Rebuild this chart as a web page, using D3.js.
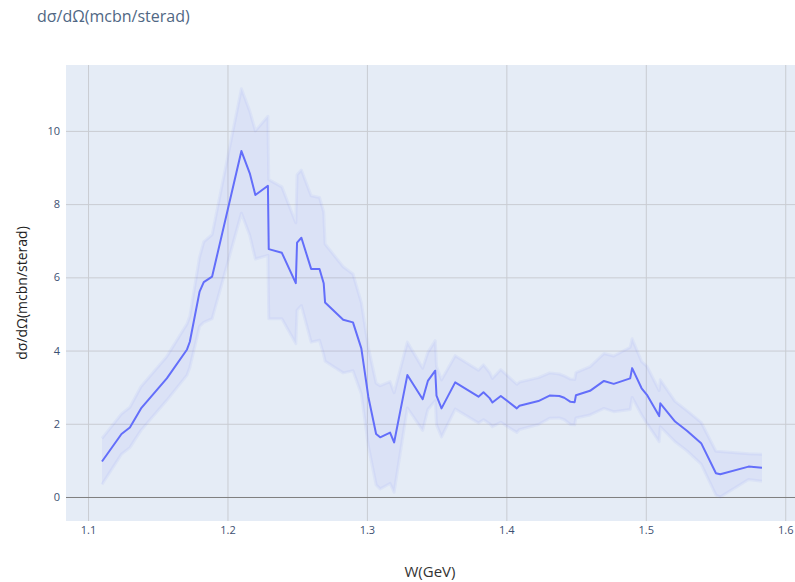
<!DOCTYPE html>
<html>
<head>
<meta charset="utf-8">
<script src="https://cdn.jsdelivr.net/npm/d3@7/dist/d3.min.js"></script>
<style>
  html, body { margin: 0; padding: 0; background: #ffffff; }
  svg { display: block; font-family: "Open Sans", "DejaVu Sans", Arial, sans-serif; }
</style>
</head>
<body>
<svg id="chart" width="795" height="582"></svg>
<script>
// Centre-of-mass energy W (GeV)
const energies = [1.110, 1.124, 1.130, 1.138, 1.1565, 1.171, 1.173, 1.180, 1.183, 1.189,
  1.210, 1.216, 1.220, 1.229, 1.2296, 1.239, 1.249, 1.2499, 1.253, 1.260,
  1.266, 1.269, 1.270, 1.283, 1.290, 1.296, 1.301, 1.3066, 1.3095, 1.3166,
  1.3195, 1.329, 1.340, 1.3437, 1.349, 1.3499, 1.3535, 1.3633, 1.380, 1.3836,
  1.388, 1.390, 1.396, 1.4075, 1.4094, 1.423, 1.431, 1.438, 1.4415, 1.446,
  1.449, 1.4499, 1.460, 1.470, 1.477, 1.4888, 1.4902, 1.497, 1.5008, 1.5096,
  1.5104, 1.521, 1.5295, 1.5397, 1.5503, 1.5534, 1.5737, 1.5833];

// Differential cross section dσ/dΩ (mcbn/sterad)
const crossSection = [0.97, 1.72, 1.90, 2.42, 3.24, 4.03, 4.24, 5.61, 5.87, 6.02,
  9.45, 8.84, 8.25, 8.50, 6.77, 6.67, 5.84, 6.95, 7.08, 6.23,
  6.23, 5.84, 5.31, 4.84, 4.77, 4.06, 2.74, 1.72, 1.63, 1.76,
  1.49, 3.33, 2.67, 3.17, 3.45, 2.77, 2.42, 3.13, 2.74, 2.86,
  2.70, 2.58, 2.76, 2.42, 2.49, 2.62, 2.77, 2.76, 2.71, 2.60,
  2.59, 2.78, 2.90, 3.17, 3.09, 3.24, 3.52, 2.97, 2.79, 2.21,
  2.56, 2.06, 1.81, 1.47, 0.65, 0.62, 0.83, 0.80];

// Uncertainty on each measurement
const uncertainty = [0.63, 0.55, 0.55, 0.60, 0.60, 0.70, 0.70, 0.95, 1.10, 1.15,
  1.70, 1.70, 1.75, 1.90, 1.90, 1.80, 1.65, 1.85, 1.85, 2.00,
  1.95, 1.95, 1.60, 1.45, 1.32, 1.25, 1.35, 1.39, 1.41, 1.39,
  1.36, 0.90, 0.85, 0.78, 0.82, 0.80, 0.78, 0.73, 0.72, 0.75,
  0.70, 0.66, 0.72, 0.66, 0.65, 0.64, 0.62, 0.60, 0.60, 0.62,
  0.62, 0.62, 0.66, 0.75, 0.76, 0.85, 0.80, 0.73, 0.78, 0.70,
  0.64, 0.55, 0.55, 0.57, 0.60, 0.62, 0.35, 0.37];

const xTicks = [1.1, 1.2, 1.3, 1.4, 1.5, 1.6];
const yTicks = [0, 2, 4, 6, 8, 10];

const titleText = "dσ/dΩ(mcbn/sterad)";
const xTitle = "W(GeV)";
const yTitle = "dσ/dΩ(mcbn/sterad)";

const points = energies.map((w, i) => ({
  w, v: crossSection[i], lo: crossSection[i] - uncertainty[i], hi: crossSection[i] + uncertainty[i]
}));

const svg = d3.select("#chart");
const plot = { left: 66, right: 795, top: 65, bottom: 521 };

const x = d3.scaleLinear().domain([1.0842, 1.607]).range([plot.left, plot.right]);
const y = d3.scaleLinear().domain([-0.656, 11.8]).range([plot.bottom, plot.top]);

// plot background
svg.append("rect")
  .attr("x", plot.left).attr("y", plot.top)
  .attr("width", plot.right - plot.left).attr("height", plot.bottom - plot.top)
  .attr("fill", "#e5ecf6");

// grid
const gridX = svg.append("g")
  .attr("transform", `translate(0,${plot.bottom})`)
  .call(d3.axisBottom(x).tickValues(xTicks).tickSize(-(plot.bottom - plot.top)).tickFormat(d3.format(".1f")));
gridX.select(".domain").remove();
gridX.selectAll(".tick line").attr("stroke", "#c9ccd2").attr("stroke-width", 1);
gridX.selectAll(".tick text")
  .attr("fill", "#3d5072").attr("font-size", 11).attr("dy", "0.35em").attr("y", 9)
  .style("font-family", "'Open Sans', sans-serif");

const gridY = svg.append("g")
  .attr("transform", `translate(${plot.left},0)`)
  .call(d3.axisLeft(y).tickValues(yTicks).tickSize(-(plot.right - plot.left)).tickFormat(d3.format("d")));
gridY.select(".domain").remove();
gridY.selectAll(".tick line")
  .attr("stroke", d => d === 0 ? "#7f7f7f" : "#c9ccd2")
  .attr("stroke-width", 1);
gridY.selectAll(".tick text")
  .attr("fill", "#3d5072").attr("font-size", 11).attr("x", -6)
  .style("font-family", "'Open Sans', sans-serif");

svg.append("clipPath").attr("id", "plotclip")
  .append("rect")
  .attr("x", plot.left).attr("y", plot.top)
  .attr("width", plot.right - plot.left).attr("height", plot.bottom - plot.top);

const layer = svg.append("g").attr("clip-path", "url(#plotclip)");

// uncertainty band
const band = d3.area()
  .x(d => x(d.w))
  .y0(d => y(d.lo))
  .y1(d => y(d.hi));

layer.append("path")
  .datum(points)
  .attr("d", band)
  .attr("fill", "rgba(99,110,250,0.08)")
  .attr("stroke", "none");

const edge = key => d3.line().x(d => x(d.w)).y(d => y(d[key]));
["hi", "lo"].forEach(k => {
  layer.append("path")
    .datum(points)
    .attr("d", edge(k))
    .attr("fill", "none")
    .attr("stroke", "rgba(99,110,250,0.07)")
    .attr("stroke-width", 3)
    .attr("stroke-linejoin", "round");
});

// central values
layer.append("path")
  .datum(points)
  .attr("d", d3.line().x(d => x(d.w)).y(d => y(d.v)))
  .attr("fill", "none")
  .attr("stroke", "#636efa")
  .attr("stroke-width", 2)
  .attr("stroke-linejoin", "round");

// titles
svg.append("text")
  .attr("x", 37).attr("y", 22)
  .attr("fill", "#506784").attr("font-size", 16)
  .text(titleText);

svg.append("text")
  .attr("x", (plot.left + plot.right) / 2 - 0.5).attr("y", 577)
  .attr("text-anchor", "middle")
  .attr("fill", "#333").attr("font-size", 15)
  .text(xTitle);

svg.append("text")
  .attr("transform", `translate(27,${(plot.top + plot.bottom) / 2}) rotate(-90)`)
  .attr("text-anchor", "middle")
  .attr("fill", "#222").attr("font-size", 14)
  .text(yTitle);
</script>
</body>
</html>
